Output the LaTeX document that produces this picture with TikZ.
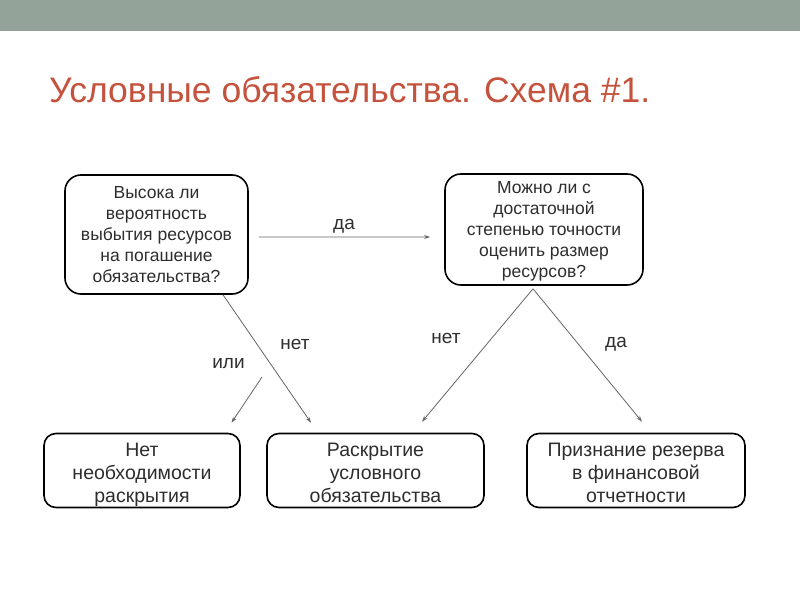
\documentclass[tikz,border=0pt]{standalone}
\usepackage{fontspec}
\setmainfont{Liberation Sans}
\usetikzlibrary{arrows.meta}
\definecolor{barcol}{RGB}{148,163,154}
\definecolor{titlecol}{RGB}{196,82,60}
\definecolor{txtcol}{RGB}{45,45,45}
\definecolor{arrcol}{RGB}{100,100,100}
\newcommand\TopQ{\rule{0pt}{16.8bp}}
\newcommand\BotQ{\rule[-5bp]{0pt}{5bp}}
\newcommand\TopA{\rule{0pt}{22bp}}
\newcommand\BotA{\rule[-5bp]{0pt}{5bp}}
\begin{document}
\begin{tikzpicture}[x=1bp,y=-1bp,
  qbox/.style={draw=black, line width=1.6bp, rounded corners=16bp, align=center, text=txtcol, font=\fontsize{17.5bp}{21.2bp}\selectfont, inner sep=0pt},
  abox/.style={draw=black, line width=1.6bp, rounded corners=12bp, align=center, text=txtcol, font=\fontsize{19.5bp}{23bp}\selectfont, inner sep=0pt, minimum height=74bp},
  conn/.style={draw=arrcol, line width=0.8bp, -{Stealth[length=6bp,width=4bp]}},
  lbl/.style={anchor=base, text=txtcol, font=\fontsize{19bp}{22bp}\selectfont, inner sep=0pt}]
\useasboundingbox (0,0) rectangle (800,600);
\fill[barcol] (0,0) rectangle (800,31);
\node[anchor=base west, text=titlecol, font=\fontsize{35.5bp}{40bp}\selectfont, inner sep=0pt] (title) at (49,103) {Условные обязательства. Схема \#1.};

\node[qbox, minimum width=183bp, minimum height=119bp] (b1) at (156.5,234.5) {\TopQ Высока ли\\вероятность\\выбытия ресурсов\\на погашение\\обязательства?\BotQ};
\node[qbox, minimum width=198bp, minimum height=111bp] (b2) at (544,229.5) {\TopQ Можно ли с\\достаточной\\степенью точности\\оценить размер\\ресурсов?\BotQ};

\node[abox, minimum width=196bp] (b3) at (142,470.5) {\TopA Нет\\необходимости\\раскрытия\BotA};
\node[abox, minimum width=217bp] (b4) at (375.5,470.5) {\TopA Раскрытие\\условного\\обязательства\BotA};
\node[abox, minimum width=218bp] (b5) at (636,470.5) {\TopA Признание резерва\\в финансовой\\отчетности\BotA};

\coordinate (ilistart) at (262,377);

\draw[conn] ([xshift=10bp,yshift=-2.5bp]b1.east) -- ([xshift=-14bp,yshift=-7.5bp]b2.west);
\draw[conn] ([xshift=66.5bp]b1.south) -- ([xshift=-64.5bp,yshift=10bp]b4.north);
\draw[conn] (ilistart) -- ([xshift=89.5bp,yshift=10bp]b3.north);
\draw[conn] ([xshift=-11bp,yshift=-3bp]b2.south) -- ([xshift=46.5bp,yshift=11bp]b4.north);
\draw[conn] ([xshift=-11bp,yshift=-3bp]b2.south) -- ([xshift=6bp,yshift=11bp]b5.north);

\node[lbl] (l1) at (344,230) {да};
\node[lbl] (l2) at (295,349) {нет};
\node[lbl] (l3) at (228.5,368) {или};
\node[lbl] (l4) at (446,343) {нет};
\node[lbl] (l5) at (616,347) {да};
\end{tikzpicture}
\end{document}
